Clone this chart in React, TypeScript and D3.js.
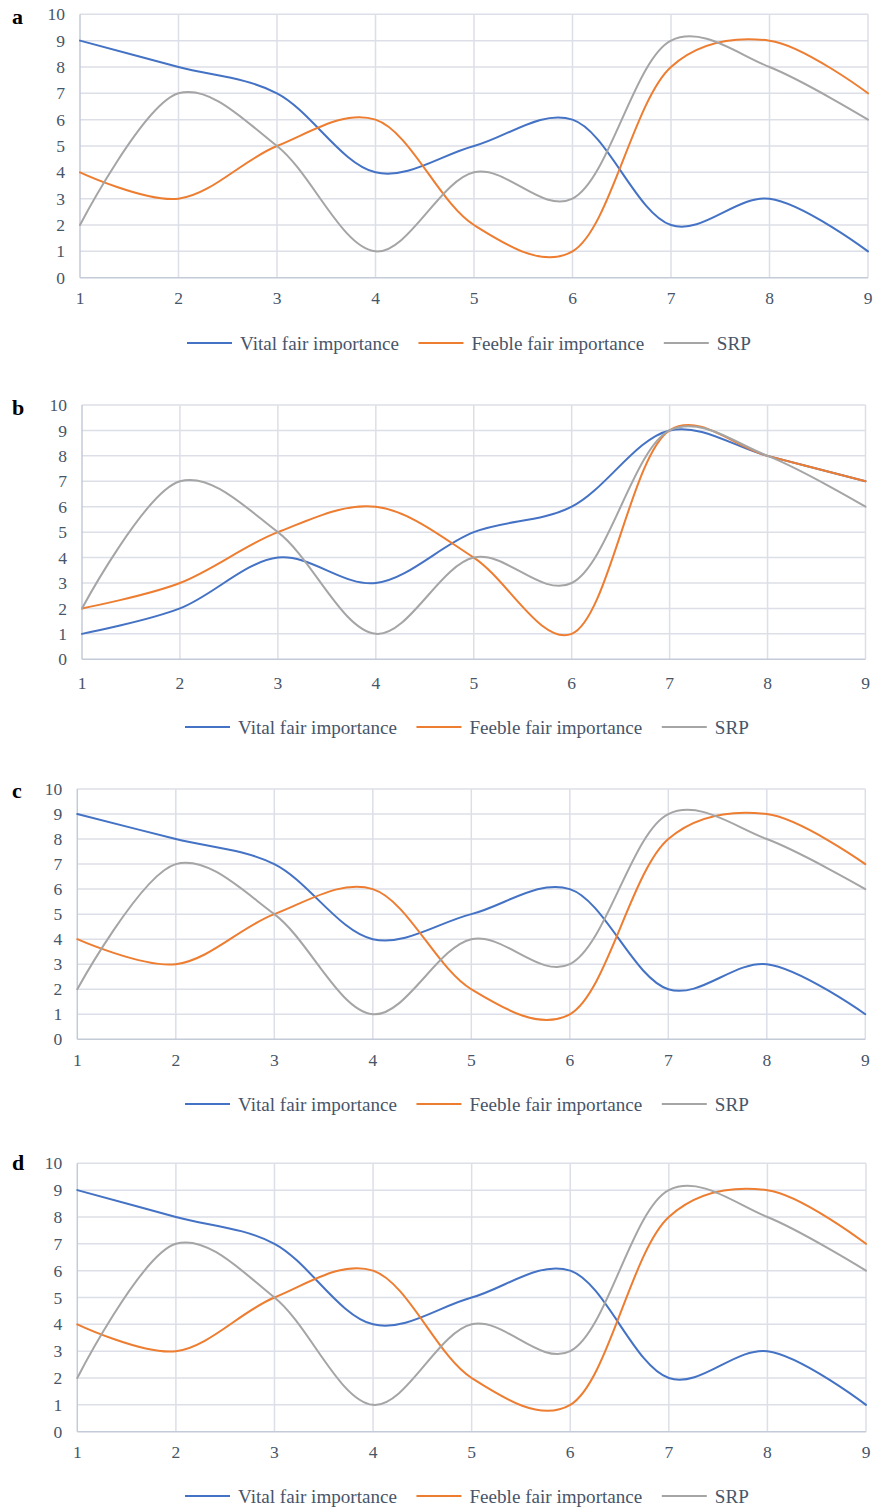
import React, { useEffect, useRef } from "react";
import * as d3 from "d3";

// Categories on the x axis and y-axis ticks
const xCategories = [1, 2, 3, 4, 5, 6, 7, 8, 9];
const yTicks = [0, 1, 2, 3, 4, 5, 6, 7, 8, 9, 10];
const seriesNames = ["Vital fair importance", "Feeble fair importance", "SRP"];
const seriesColors = ["#4472C4", "#ED7D31", "#A5A5A5"];

// Panel a
const vitalA = [9, 8, 7, 4, 5, 6, 2, 3, 1];
const feebleA = [4, 3, 5, 6, 2, 1, 8, 9, 7];
const srpA = [2, 7, 5, 1, 4, 3, 9, 8, 6];
// Panel b
const vitalB = [1, 2, 4, 3, 5, 6, 9, 8, 7];
const feebleB = [2, 3, 5, 6, 4, 1, 9, 8, 7];
const srpB = [2, 7, 5, 1, 4, 3, 9, 8, 6];
// Panel c
const vitalC = [9, 8, 7, 4, 5, 6, 2, 3, 1];
const feebleC = [4, 3, 5, 6, 2, 1, 8, 9, 7];
const srpC = [2, 7, 5, 1, 4, 3, 9, 8, 6];
// Panel d
const vitalD = [9, 8, 7, 4, 5, 6, 2, 3, 1];
const feebleD = [4, 3, 5, 6, 2, 1, 8, 9, 7];
const srpD = [2, 7, 5, 1, 4, 3, 9, 8, 6];

const panelLabels = ["a", "b", "c", "d"];

type Frame = {
  left: number; right: number; top: number; bottom: number;
  tickY: number; legendY: number; labelY: number; legendX: number;
};

const frames: Frame[] = [
  { left: 80, right: 868, top: 14.3, bottom: 277.7, tickY: 298, legendY: 343, labelY: 24, legendX: 187 },
  { left: 82, right: 865.5, top: 405, bottom: 659.3, tickY: 683, legendY: 727, labelY: 415, legendX: 185 },
  { left: 77.3, right: 865.3, top: 789, bottom: 1039.3, tickY: 1060, legendY: 1104, labelY: 798, legendX: 185 },
  { left: 77.3, right: 866, top: 1163.3, bottom: 1431.7, tickY: 1452, legendY: 1496, labelY: 1170, legendX: 185 },
];

const panelData = [
  [vitalA, feebleA, srpA],
  [vitalB, feebleB, srpB],
  [vitalC, feebleC, srpC],
  [vitalD, feebleD, srpD],
];

const FONT = "'Liberation Serif', 'Times New Roman', serif";
const TEXT = "#475569";
const GRID = "#dcdfe7";
const AXIS = "#c3cad8";

export default function App() {
  const ref = useRef<SVGSVGElement | null>(null);

  useEffect(() => {
    const svg = d3.select(ref.current);
    svg.selectAll("*").remove();

    frames.forEach((f, pi) => {
      const g = svg.append("g");
      const x = d3.scaleLinear().domain([1, 9]).range([f.left, f.right]);
      const y = d3.scaleLinear().domain([0, 10]).range([f.bottom, f.top]);

      // horizontal grid
      g.selectAll("line.hg")
        .data(yTicks.filter((t) => t > 0))
        .join("line")
        .attr("x1", f.left).attr("x2", f.right)
        .attr("y1", (d) => y(d)).attr("y2", (d) => y(d))
        .attr("stroke", GRID).attr("stroke-width", 1.5);
      // vertical grid
      g.selectAll("line.vg")
        .data(xCategories.filter((c) => c > 1))
        .join("line")
        .attr("x1", (d) => x(d)).attr("x2", (d) => x(d))
        .attr("y1", f.top).attr("y2", f.bottom)
        .attr("stroke", GRID).attr("stroke-width", 1.5);
      // axes
      g.append("line")
        .attr("x1", f.left).attr("x2", f.left).attr("y1", f.top).attr("y2", f.bottom)
        .attr("stroke", AXIS).attr("stroke-width", 1.5);
      g.append("line")
        .attr("x1", f.left).attr("x2", f.right).attr("y1", f.bottom).attr("y2", f.bottom)
        .attr("stroke", AXIS).attr("stroke-width", 1.5);

      // y tick labels
      g.selectAll("text.yt")
        .data(yTicks)
        .join("text")
        .attr("x", f.left - 15)
        .attr("y", (d) => y(d))
        .attr("dy", "0.35em")
        .attr("text-anchor", "end")
        .attr("font-family", FONT).attr("font-size", 17.5).attr("fill", TEXT)
        .text((d) => String(d));
      // x tick labels
      g.selectAll("text.xt")
        .data(xCategories)
        .join("text")
        .attr("x", (d) => x(d))
        .attr("y", f.tickY)
        .attr("dy", "0.35em")
        .attr("text-anchor", "middle")
        .attr("font-family", FONT).attr("font-size", 17.5).attr("fill", TEXT)
        .text((d) => String(d));

      // series
      const line = d3
        .line<number>()
        .x((_, i) => x(xCategories[i]))
        .y((d) => y(d))
        .curve(d3.curveCatmullRom.alpha(0.3));
      panelData[pi].forEach((vals, si) => {
        g.append("path")
          .attr("d", line(vals) || "")
          .attr("fill", "none")
          .attr("stroke", seriesColors[si])
          .attr("stroke-width", 2)
          .attr("stroke-linejoin", "round")
          .attr("stroke-linecap", "round");
      });

      // panel label
      g.append("text")
        .attr("x", 12).attr("y", f.labelY)
        .attr("font-family", FONT).attr("font-size", 22).attr("font-weight", "bold")
        .attr("fill", "#000")
        .text(panelLabels[pi]);

      // legend
      let lx = f.legendX;
      seriesNames.forEach((name, si) => {
        g.append("line")
          .attr("x1", lx).attr("x2", lx + 45)
          .attr("y1", f.legendY).attr("y2", f.legendY)
          .attr("stroke", seriesColors[si]).attr("stroke-width", 2);
        const t = g.append("text")
          .attr("x", lx + 53).attr("y", f.legendY)
          .attr("dy", "0.35em")
          .attr("font-family", FONT).attr("font-size", 19.1).attr("fill", TEXT)
          .text(name);
        const w = (t.node() as SVGTextElement).getComputedTextLength();
        lx = lx + 53 + w + 19.5;
      });
    });
  }, []);

  return (
    <svg
      ref={ref}
      width={874}
      height={1507}
      style={{ position: "absolute", left: 0, top: 0, display: "block", background: "#fff" }}
    />
  );
}
